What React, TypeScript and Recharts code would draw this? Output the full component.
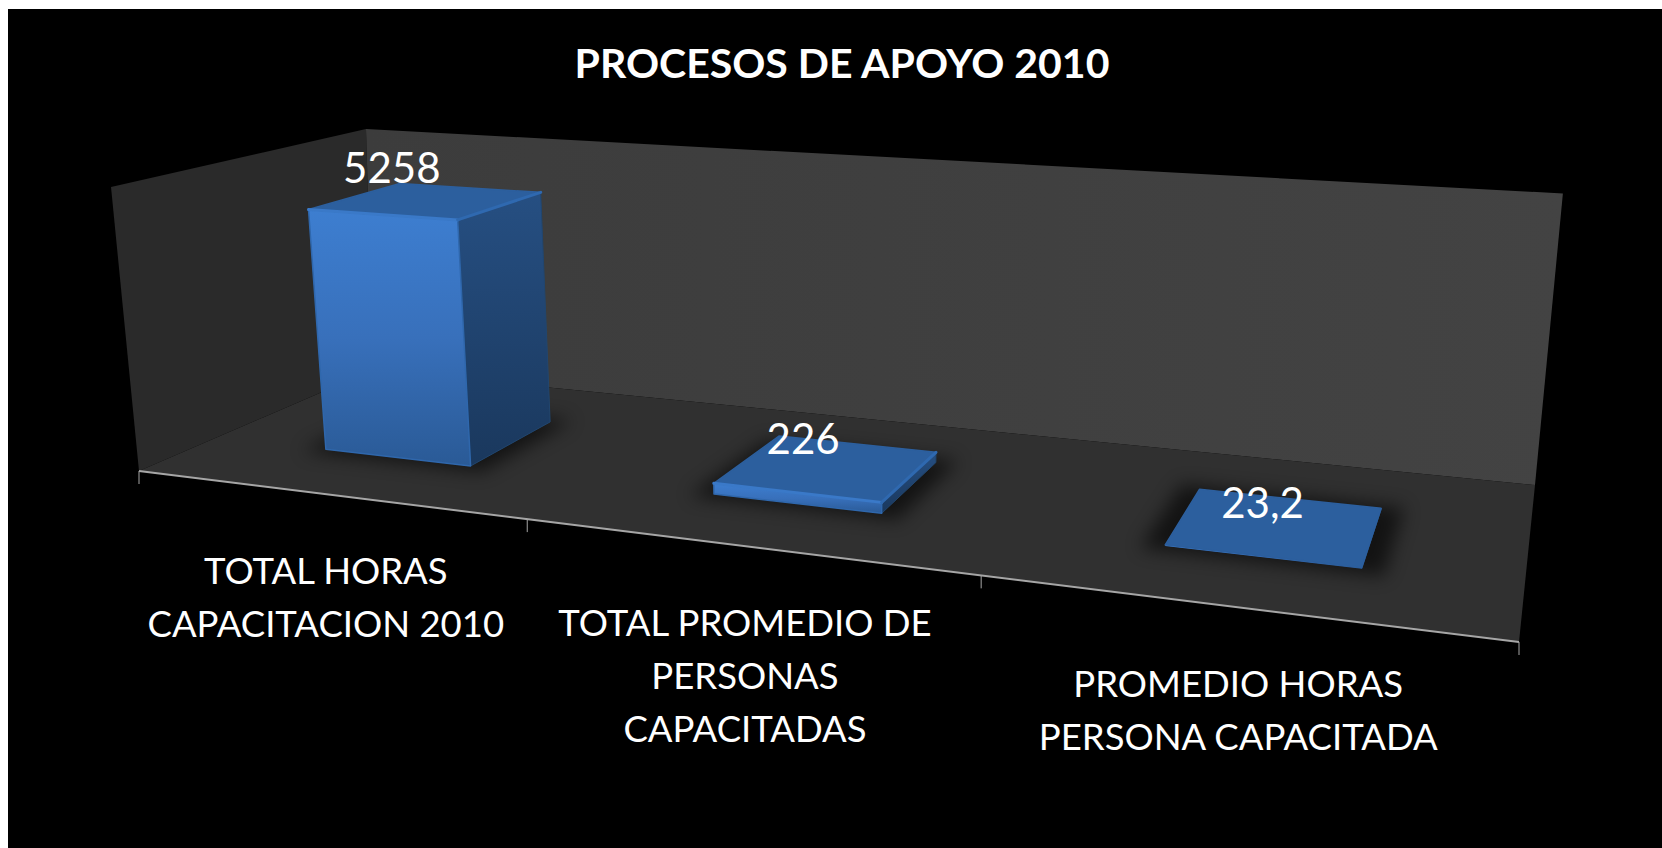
import React from 'react';
import { BarChart, Bar, XAxis, YAxis, LabelList } from 'recharts';

const categories = [
  'TOTAL HORAS\nCAPACITACION 2010',
  'TOTAL PROMEDIO DE\nPERSONAS\nCAPACITADAS',
  'PROMEDIO HORAS\nPERSONA CAPACITADA',
];
const values = [5258, 226, 23.2];
const chartTitle = 'PROCESOS DE APOYO 2010';
const axisMax = 6000;

const tableData = categories.map((name, i) => ({ name, value: values[i] }));

// page placement and the flat plot area recharts works in
const OX = 8;
const OY = 9;
const W = 1654;
const H = 839;
const PLOT = { left: 100, top: 100, width: 1454, height: 639 };

// floor corners and wall reference points as they sit on the page
const F0 = { x: 139, y: 471 }; // front left
const F1 = { x: 1519, y: 642 }; // front right
const B1 = { x: 1535, y: 485 }; // back right
const B0 = { x: 373, y: 370 }; // back left
const TOP_LEFT = { x: 111, y: 187 }; // top of the left wall, front edge
const VANISH = { x: 848, y: 7666 }; // where the vertical edges meet
const ROOM_CORNER = { x: 366 - OX, y: 129 - OY }; // top of the back left corner

// unit square -> floor quad homography, extended with a height term
const dx1 = F1.x - B1.x;
const dy1 = F1.y - B1.y;
const dx2 = B0.x - B1.x;
const dy2 = B0.y - B1.y;
const sx = F0.x - F1.x + B1.x - B0.x;
const sy = F0.y - F1.y + B1.y - B0.y;
const det = dx1 * dy2 - dx2 * dy1;
const g = (sx * dy2 - dx2 * sy) / det;
const h = (dx1 * sy - sx * dy1) / det;
const a = F1.x - F0.x + g * F1.x;
const b = B0.x - F0.x + h * B0.x;
const d = F1.y - F0.y + g * F1.y;
const e = B0.y - F0.y + h * B0.y;
const r = (TOP_LEFT.y - F0.y) / (VANISH.y - TOP_LEFT.y);
const p = VANISH.x * r;
const q = VANISH.y * r;

const project = (u: number, w: number, v: number) => {
  const den = g * u + h * w + 1 + r * v;
  return {
    x: (a * u + b * w + F0.x + p * v) / den - OX,
    y: (d * u + e * w + F0.y + q * v) / den - OY,
  };
};

const poly = (pts: { x: number; y: number }[]) => pts.map((pt) => `${pt.x},${pt.y}`).join(' ');

// bars stand in the middle of the floor depth
const DEPTH_FRONT = 0.3;
const DEPTH_BACK = 0.7;

const Room = () => {
  const ticks = categories.map((_, i) => i / categories.length).concat(1);
  return (
    <g>
      <defs>
        <linearGradient id="frontFace" x1="0" y1="0" x2="0" y2="1">
          <stop offset="0%" stopColor="#3d7ed0" />
          <stop offset="50%" stopColor="#3870bb" />
          <stop offset="100%" stopColor="#2a5a96" />
        </linearGradient>
        <linearGradient id="sideFace" x1="0" y1="0" x2="0" y2="1">
          <stop offset="0%" stopColor="#264f82" />
          <stop offset="100%" stopColor="#1a385d" />
        </linearGradient>
        <linearGradient id="backWall" x1="0" y1="0" x2="1" y2="0">
          <stop offset="0%" stopColor="#3c3c3c" />
          <stop offset="100%" stopColor="#434343" />
        </linearGradient>
        <filter id="soft" x="-30%" y="-60%" width="160%" height="220%">
          <feGaussianBlur stdDeviation="9" />
        </filter>
      </defs>
      <polygon
        points={poly([project(0, 0, 0), project(0, 1, 0), ROOM_CORNER, project(0, 0, 1)])}
        fill="#2a2a2a"
      />
      <polygon
        points={poly([project(0, 1, 0), project(1, 1, 0), project(1, 1, 1), ROOM_CORNER])}
        fill="url(#backWall)"
      />
      <polygon
        points={poly([project(0, 0, 0), project(1, 0, 0), project(1, 1, 0), project(0, 1, 0)])}
        fill="#303030"
      />
      <line
        x1={project(0, 0, 0).x}
        y1={project(0, 0, 0).y}
        x2={project(1, 0, 0).x}
        y2={project(1, 0, 0).y}
        stroke="#a6a6a6"
        strokeWidth={2}
      />
      {ticks.map((t) => {
        const pt = project(t, 0, 0);
        return <line key={t} x1={pt.x} y1={pt.y} x2={pt.x} y2={pt.y + 13} stroke="#a6a6a6" strokeWidth={1} />;
      })}
    </g>
  );
};

const BoxBar = (props: any) => {
  const { x, width, height } = props;
  const u0 = (x - PLOT.left) / PLOT.width;
  const u1 = (x + width - PLOT.left) / PLOT.width;
  const v = height / PLOT.height;

  const fl = project(u0, DEPTH_FRONT, 0);
  const fr = project(u1, DEPTH_FRONT, 0);
  const br = project(u1, DEPTH_BACK, 0);
  const tfl = project(u0, DEPTH_FRONT, v);
  const tfr = project(u1, DEPTH_FRONT, v);
  const tbr = project(u1, DEPTH_BACK, v);
  const tbl = project(u0, DEPTH_BACK, v);
  const pad = 0.015;
  const shadow = [
    project(u0 - pad, DEPTH_FRONT - 0.03, 0),
    project(u1 + pad, DEPTH_FRONT - 0.03, 0),
    project(u1 + pad, DEPTH_BACK + 0.03, 0),
    project(u0 - pad, DEPTH_BACK + 0.03, 0),
  ];
  const tall = v > 0.01;

  return (
    <g>
      <polygon points={poly(shadow)} fill="#000000" opacity={0.6} filter="url(#soft)" />
      <polygon
        points={poly([fr, br, tbr, tfr])}
        fill="url(#sideFace)"
        stroke="#21466f"
        strokeWidth={1}
        strokeLinejoin="round"
      />
      <polygon
        points={poly([fl, fr, tfr, tfl])}
        fill="url(#frontFace)"
        stroke="#2f67ac"
        strokeWidth={tall ? 1.5 : 0}
        strokeLinejoin="round"
      />
      <polygon
        points={poly([tfl, tfr, tbr, tbl])}
        fill="#2c5f9e"
        stroke="#2c5f9e"
        strokeWidth={1.5}
        strokeLinejoin="round"
      />
      {tall && (
        <>
          <polyline points={poly([tfl, tfr])} fill="none" stroke="#3a79c8" strokeWidth={3} strokeLinecap="round" />
          <polyline points={poly([tfr, tbr])} fill="none" stroke="#2f69b0" strokeWidth={3} strokeLinecap="round" />
        </>
      )}
    </g>
  );
};

const ValueLabel = (props: any) => {
  const { x, width, height, value } = props;
  const uc = (x + width / 2 - PLOT.left) / PLOT.width;
  const v = height / PLOT.height;
  const c = project(uc, (DEPTH_FRONT + DEPTH_BACK) / 2, v);
  return (
    <text
      x={c.x - 41 + 33 * uc}
      y={c.y - 36 + 14 * uc}
      textAnchor="middle"
      dominantBaseline="central"
      fill="#ffffff"
      fontFamily="Lato"
      fontSize={42}
    >
      {String(value).replace('.', ',')}
    </text>
  );
};

const CategoryTick = (props: any) => {
  const { x, payload } = props;
  const u = (x - PLOT.left) / PLOT.width;
  const anchor = project(u, 0, 0);
  const lines = String(payload.value).split('\n');
  return (
    <g>
      {lines.map((line, i) => (
        <text
          key={line}
          x={anchor.x}
          y={anchor.y + 76 + i * 53}
          textAnchor="middle"
          dominantBaseline="central"
          fill="#ffffff"
          fontFamily="Lato"
          fontSize={36.5}
        >
          {line}
        </text>
      ))}
    </g>
  );
};

export default function App() {
  return (
    <div style={{ position: 'fixed', left: OX, top: OY, width: W, height: H, background: '#000000' }}>
      <BarChart
        width={W}
        height={H}
        data={tableData}
        barCategoryGap="30.5%"
        margin={{ top: PLOT.top, left: PLOT.left, right: W - PLOT.left - PLOT.width, bottom: H - PLOT.top - PLOT.height - 1 }}
      >
        <Room />
        <text
          x={842 - OX}
          y={62 - OY}
          textAnchor="middle"
          dominantBaseline="central"
          fill="#ffffff"
          fontFamily="Lato"
          fontWeight={700}
          fontSize={41}
        >
          {chartTitle}
        </text>
        <XAxis dataKey="name" height={1} interval={0} axisLine={false} tickLine={false} tick={CategoryTick} />
        <YAxis hide domain={[0, axisMax]} />
        <Bar dataKey="value" shape={BoxBar} isAnimationActive={false}>
          <LabelList dataKey="value" content={ValueLabel} />
        </Bar>
      </BarChart>
    </div>
  );
}
